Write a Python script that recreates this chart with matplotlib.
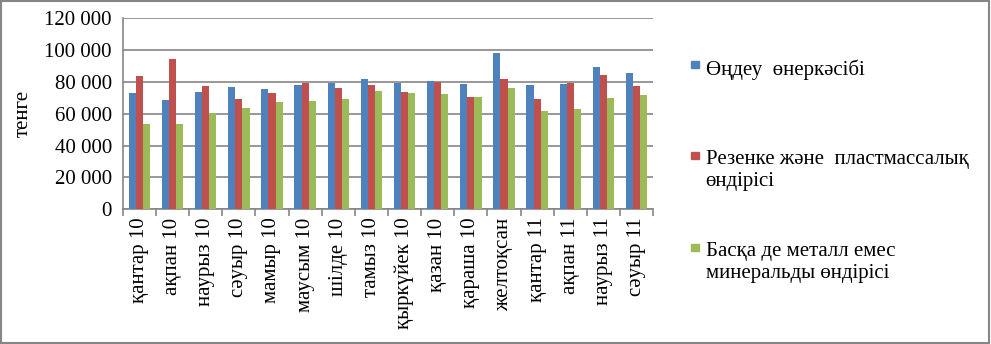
import matplotlib
matplotlib.use('Agg')
import matplotlib.pyplot as plt
from matplotlib.patches import Rectangle
from matplotlib.ticker import FuncFormatter
import numpy as np

plt.rcParams['font.family'] = ['Liberation Serif', 'DejaVu Serif']

months = ['қантар 10', 'ақпан 10', 'наурыз 10', 'сәуыр 10', 'мамыр 10',
          'маусым 10', 'шілде 10', 'тамыз 10', 'қыркүйек 10', 'қазан 10',
          'қараша 10', 'желтоқсан', 'қантар 11', 'ақпан 11', 'наурыз 11',
          'сәуыр 11']

ondeu = [73100, 68700, 73700, 76900, 75600, 78100, 79400, 81900,
         79400, 80600, 78700, 98200, 78100, 78700, 89400, 85700]
rezenke = [83800, 94400, 77500, 69300, 73100, 79400, 76200, 78100,
           73700, 80200, 70600, 81900, 69300, 79400, 84400, 77500]
baska = [53600, 53600, 60300, 63700, 67400, 68100, 69300, 74300,
         73100, 72500, 70600, 76200, 61800, 63000, 69900, 71800]

series_names = ['Өңдеу  өнеркәсібі',
                'Резенке және  пластмассалық\nөндірісі',
                'Басқа де металл емес\nминеральды өндірісі']
colors = ['#4f81bd', '#c0504d', '#9bbb59']
grid_col = '#868686'

fig = plt.figure(figsize=(9.91, 3.44), dpi=100)
ax = fig.add_axes([0.124, 0.392, 0.535, 0.555])

x = np.arange(len(months))
w = 0.215
for i, vals in enumerate([ondeu, rezenke, baska]):
    ax.bar(x + (i - 1) * w, vals, width=w, color=colors[i], zorder=3)

ax.set_xlim(-0.5, len(months) - 0.5)
ax.set_ylim(0, 120000)
ax.set_yticks(np.arange(0, 120001, 20000))
ax.yaxis.set_major_formatter(FuncFormatter(lambda v, p: f'{int(v):,}'.replace(',', ' ')))
ax.yaxis.grid(True, color=grid_col, linewidth=1.2, zorder=0)
ax.tick_params(axis='y', length=0, labelsize=15, pad=8)

ax.set_xticks(x)
ax.set_xticklabels(months, rotation=90, fontsize=15)
ax.set_xticks(np.arange(-0.5, len(months), 1), minor=True)
ax.tick_params(axis='x', which='major', length=0, pad=6)
ax.tick_params(axis='x', which='minor', length=5, color=grid_col, width=1.2)

for s in ['top', 'right']:
    ax.spines[s].set_visible(False)
for s in ['left', 'bottom']:
    ax.spines[s].set_color(grid_col)
    ax.spines[s].set_linewidth(1.2)

ax.set_ylabel('тенге', fontsize=15, labelpad=8)

# legend drawn by hand to keep the wide spacing
leg_y = [0.814, 0.549, 0.282]
for name, c, yy in zip(series_names, colors, leg_y):
    fig.patches.append(Rectangle((0.6975, yy - 0.012), 0.0075, 0.022,
                                 transform=fig.transFigure, color=c))
    fig.text(0.712, yy + 0.014, name, fontsize=15, va='top', ha='left',
             linespacing=1.2)

# outer frame of the chart area
fig.patches.append(Rectangle((0.001, 0.003), 0.997, 0.994, transform=fig.transFigure,
                             fill=False, edgecolor='#868686', linewidth=1.5))

fig.savefig('out.png', dpi=100)
